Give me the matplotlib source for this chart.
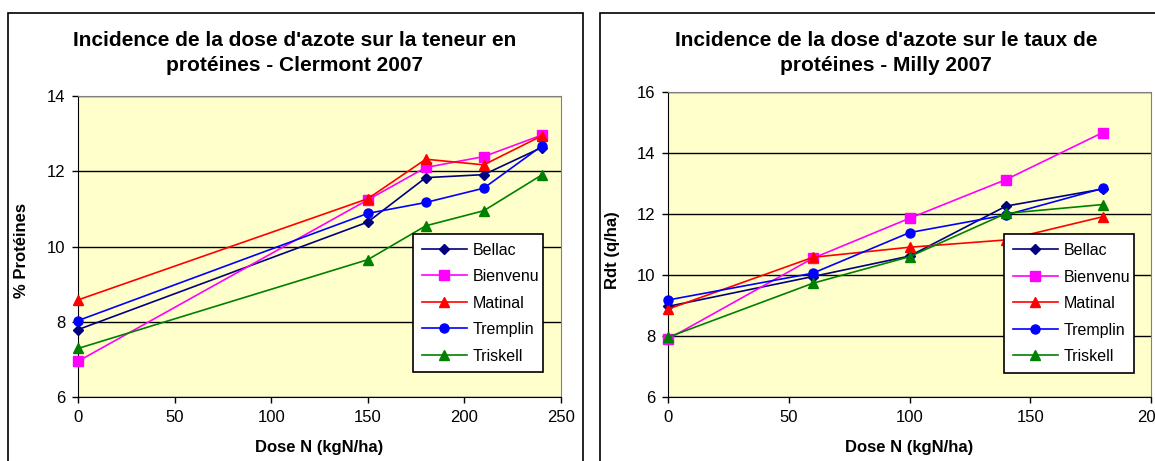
import matplotlib
matplotlib.use("Agg")
import matplotlib.pyplot as plt
from matplotlib.patches import Rectangle

plt.rcParams['font.family'] = ['Liberation Sans', 'DejaVu Sans']

W, H = 1155, 461

varieties = ["Bellac", "Bienvenu", "Matinal", "Tremplin", "Triskell"]
colors = ["#000080", "#FF00FF", "#FF0000", "#0000FF", "#008000"]
markers = ["D", "s", "^", "o", "^"]

# Clermont 2007 - teneur en protéines
dose_clermont = [0, 150, 180, 210, 240]
clermont = {
    "Bellac":   [7.79, 10.65, 11.83, 11.91, 12.63],
    "Bienvenu": [6.95, 11.24, 12.10, 12.39, 12.96],
    "Matinal":  [8.58, 11.27, 12.32, 12.17, 12.94],
    "Tremplin": [8.03, 10.88, 11.17, 11.55, 12.67],
    "Triskell": [7.29, 9.65, 10.55, 10.95, 11.90],
}

# Milly 2007 - rendement
dose_milly = [0, 60, 100, 140, 180]
milly = {
    "Bellac":   [8.97, 9.95, 10.62, 12.26, 12.82],
    "Bienvenu": [7.90, 10.55, 11.86, 13.13, 14.67],
    "Matinal":  [8.88, 10.58, 10.91, 11.15, 11.91],
    "Tremplin": [9.18, 10.06, 11.39, 11.97, 12.84],
    "Triskell": [7.96, 9.73, 10.60, 12.02, 12.31],
}


def px_axes(fig, x0, y0, x1, y1):
    # pixel box (top-left origin) -> figure fraction
    return fig.add_axes([x0 / W, 1 - y1 / H, (x1 - x0) / W, (y1 - y0) / H])


def draw_panel(fig, box, doses, data, xlim, ylim, title, title_x, ylabel, ylabel_x, legend_box):
    ax = px_axes(fig, *box)
    ax.set_facecolor("#FFFFCC")
    for name, c, m in zip(varieties, colors, markers):
        ax.plot(doses, data[name], color=c, marker=m, markersize=6.5 if m != "D" else 5.5,
                linewidth=1.2, label=name, clip_on=False, zorder=3)
    ax.set_xlim(*xlim)
    ax.set_ylim(*ylim)
    ax.set_xticks(range(xlim[0], xlim[1] + 1, 50))
    ax.set_yticks(range(ylim[0], ylim[1] + 1, 2))
    ax.yaxis.grid(True, color="black", linewidth=1)
    ax.set_axisbelow(True)
    for s in ("top", "right"):
        ax.spines[s].set_color("#808080")
    for s in ("left", "bottom"):
        ax.spines[s].set_color("black")
    ax.tick_params(direction="out", length=4, width=1, labelsize=12, pad=5)

    ax.set_xlabel("Dose N (kgN/ha)", fontsize=12, fontweight="bold", labelpad=11)
    fig.text(ylabel_x / W, 1 - 250 / H, ylabel, rotation=90,
             fontsize=12, fontweight="bold", ha="center", va="center")
    fig.text(title_x / W, 1 - 53 / H, title, fontsize=15,
             fontweight="bold", ha="center", va="center", linespacing=1.45)

    lx0, ly0, lx1, ly1 = legend_box
    bbox = ((lx0 - box[0]) / (box[2] - box[0]), 1 - (ly1 - box[1]) / (box[3] - box[1]),
            (lx1 - lx0) / (box[2] - box[0]), (ly1 - ly0) / (box[3] - box[1]))
    leg = ax.legend(loc="center", bbox_to_anchor=bbox, mode="expand", fontsize=11.5,
                    frameon=True, fancybox=False, edgecolor="black", framealpha=1,
                    handlelength=2.8, handletextpad=0.4, labelspacing=0.72,
                    borderpad=0.55, borderaxespad=0)
    leg.get_frame().set_linewidth(1.2)
    leg.set_zorder(5)
    return ax


fig = plt.figure(figsize=(W / 100, H / 100), dpi=100)

# chart area frames
fig.patches.append(Rectangle((8 / W, -0.05), (583 - 8) / W, 1.05 - 13 / H,
                             transform=fig.transFigure, fill=False,
                             edgecolor="black", linewidth=1.2))
fig.patches.append(Rectangle((600 / W, -0.05), 0.6, 1.05 - 13 / H,
                             transform=fig.transFigure, fill=False,
                             edgecolor="black", linewidth=1.2))

draw_panel(fig, (78, 96, 561, 397), dose_clermont, clermont, (0, 250), (6, 14),
           "Incidence de la dose d'azote sur la teneur en\nprotéines - Clermont 2007",
           295, "% Protéines", 22, (413, 228, 543, 378))
draw_panel(fig, (668, 92, 1151, 397), dose_milly, milly, (0, 200), (6, 16),
           "Incidence de la dose d'azote sur le taux de\nprotéines - Milly 2007",
           886, "Rdt (q/ha)", 613, (1004, 229, 1134, 378))

fig.savefig("out.png", dpi=100)
